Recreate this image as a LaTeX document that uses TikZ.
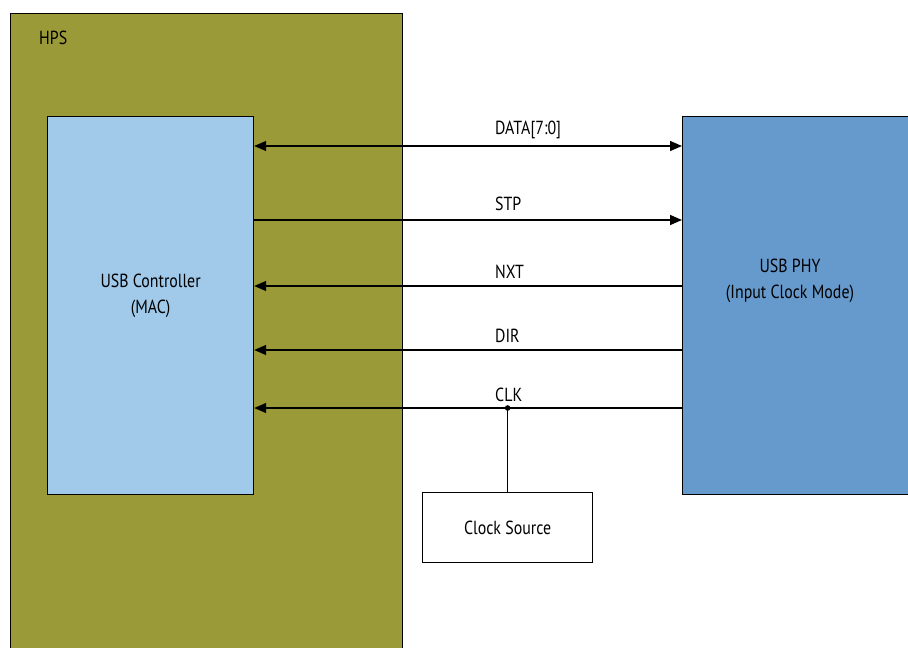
\documentclass[tikz,border=0pt]{standalone}
\usepackage{fontspec}
\setmainfont{PT Sans}[FakeStretch=0.84]
\usepackage{xcolor}
\usetikzlibrary{arrows.meta,positioning,calc}
\definecolor{hpsolive}{HTML}{9A9A38}
\definecolor{maclight}{HTML}{A0C9EA}
\definecolor{phyblue}{HTML}{6699CC}
\tikzstyle{blk}  = [rectangle, draw, line width=1.2bp, inner sep=0pt]
\tikzstyle{lbl}  = [font=\fontsize{19}{26}\selectfont, align=center, inner sep=0pt]
\tikzstyle{sig}  = [line width=1.4bp]
\tikzstyle{sigr} = [sig, -{Triangle[length=12bp,width=10bp]}]
\tikzstyle{sigl} = [sig, {Triangle[length=12bp,width=10bp]}-]
\tikzstyle{sigb} = [sig, {Triangle[length=12bp,width=10bp]}-{Triangle[length=12bp,width=10bp]}]

\begin{document}
\begin{tikzpicture}[x=1bp, y=-1bp]
\useasboundingbox (0,0) rectangle (908,648);
\clip (0,0) rectangle (908,648);
% Blocks
\node[blk, fill=hpsolive, anchor=north west, minimum width=392bp,
  minimum height=660bp] (hps) at (10,13) {};
\node[lbl, anchor=north west] (hpsl) at (39,31) {HPS};
\node[blk, fill=maclight, anchor=north west, minimum width=206bp,
  minimum height=378bp] (ctrl) at (47,116) {};
\node[lbl] (ctrll) at ([yshift=10bp]ctrl.center) {USB Controller\\(MAC)};
\node[blk, fill=phyblue, anchor=north west, minimum width=240bp,
  minimum height=378bp] (phy) at (682,116) {};
\node[lbl] (phyl) at (790,281) {USB PHY\\(Input Clock Mode)};
\node[blk, fill=white, anchor=north west, minimum width=170bp,
  minimum height=70bp] (clk) at (422,492) {};
\node[lbl] (clkl) at (clk.center) {Clock Source};
% Signals
\draw[sigb] ([yshift=-30bp]ctrl.north east) -- ([yshift=-30bp]phy.north west);
\draw[sigr] ([yshift=-104bp]ctrl.north east) -- ([yshift=-104bp]phy.north west);
\draw[sigl] ([yshift=-170bp]ctrl.north east) -- ([yshift=-170bp]phy.north west);
\draw[sigl] ([yshift=-234bp]ctrl.north east) -- ([yshift=-234bp]phy.north west);
\draw[sigl] ([yshift=-292bp]ctrl.north east) -- ([yshift=-292bp]phy.north west);
\node[lbl, anchor=south west] (datal) at (495,139) {DATA[7:0]};
\node[lbl, anchor=south west] (stpl) at (495,211) {STP};
\node[lbl, anchor=south west] (nxtl) at (495,279) {NXT};
\node[lbl, anchor=south west] (dirl) at (495,343) {DIR};
\node[lbl, anchor=south west] (clkn) at (495,402) {CLK};
% Clock tap
\coordinate (tap) at (clk.north |- 0,408);
\draw[sig] (clk.north) -- (tap);
\fill (tap) circle (2.8bp);
\end{tikzpicture}
\end{document}
